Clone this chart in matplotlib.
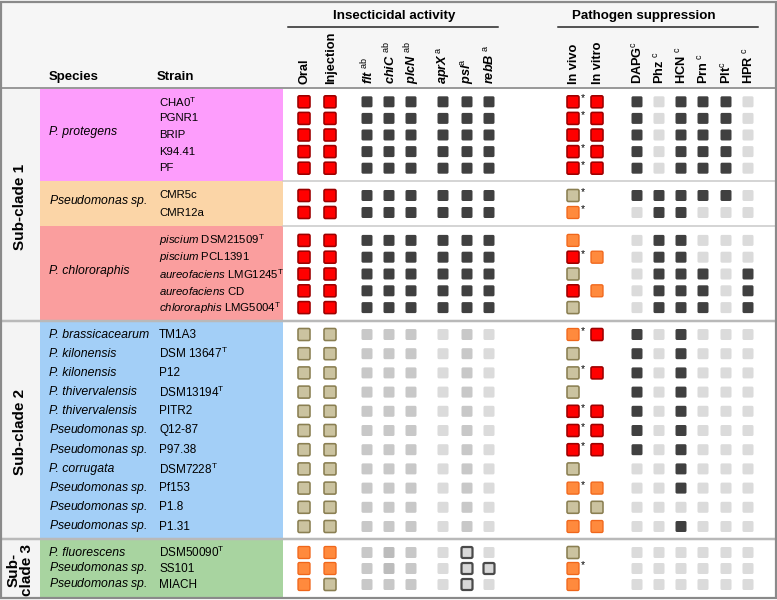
import numpy as np
import matplotlib
matplotlib.use('Agg')
import matplotlib.pyplot as plt
from matplotlib.patches import Rectangle, FancyBboxPatch

plt.rcParams['font.family'] = ['Liberation Sans', 'DejaVu Sans']
plt.rcParams['mathtext.fontset'] = 'custom'
plt.rcParams['mathtext.rm'] = 'Liberation Sans'
plt.rcParams['mathtext.it'] = 'Liberation Sans:italic'
plt.rcParams['mathtext.bf'] = 'Liberation Sans:bold'

# ---- data ----
columns = ['Oral', 'Injection',
           r'flt$\ ^{\mathrm{ab}}$', r'chiC$\ ^{\mathrm{ab}}$', r'plcN$\ ^{\mathrm{ab}}$',
           r'aprX$\,^{\mathrm{a}}$', r'psl$^{\mathrm{a}}$', r'rebB$\ ^{\mathrm{a}}$',
           'In vivo', 'In vitro',
           r'DAPG$^{\mathrm{c}}$', r'Phz$\ ^{\mathrm{c}}$', r'HCN$\ ^{\mathrm{c}}$',
           r'Prn$\ ^{\mathrm{c}}$', r'Plt$^{\mathrm{c}}$', r'HPR$\ ^{\mathrm{c}}$']
col_italic = [False, False, True, True, True, True, True, True,
              False, False, False, False, False, False, False, False]

subclades = ['Sub-clade 1', 'Sub-clade 2', 'Sub-\nclade 3']

# species bands: (name or None for per-row names, colour, subclade index)
band_species = ['P. protegens', r'$\mathit{Pseudomonas}$ sp.', 'P. chlororaphis', None, None]
band_colors = ['#fd9dfc', '#fbd5a7', '#fa9e9e', '#a3cff7', '#a8d4a0']
band_subclade = [0, 0, 0, 1, 2]

strains = [
    [r'CHA0$^{\mathrm{T}}$', 'PGNR1', 'BRIP', 'K94.41', 'PF'],
    ['CMR5c', 'CMR12a'],
    [r'$\mathit{piscium}$ DSM21509$^{\mathrm{T}}$', r'$\mathit{piscium}$ PCL1391',
     r'$\mathit{aureofaciens}$ LMG1245$^{\mathrm{T}}$', r'$\mathit{aureofaciens}$ CD',
     r'$\mathit{chlororaphis}$ LMG5004$^{\mathrm{T}}$'],
    ['TM1A3', r'DSM 13647$^{\mathrm{T}}$', 'P12', r'DSM13194$^{\mathrm{T}}$', 'PITR2',
     'Q12-87', 'P97.38', r'DSM7228$^{\mathrm{T}}$', 'Pf153', 'P1.8', 'P1.31'],
    [r'DSM50090$^{\mathrm{T}}$', 'SS101', 'MIACH'],
]

row_species = [
    None, None, None,
    ['P. brassicacearum', 'P. kilonensis', 'P. kilonensis', 'P. thivervalensis',
     'P. thivervalensis', r'$\mathit{Pseudomonas}$ sp.', r'$\mathit{Pseudomonas}$ sp.',
     'P. corrugata', r'$\mathit{Pseudomonas}$ sp.', r'$\mathit{Pseudomonas}$ sp.',
     r'$\mathit{Pseudomonas}$ sp.'],
    ['P. fluorescens', r'$\mathit{Pseudomonas}$ sp.', r'$\mathit{Pseudomonas}$ sp.'],
]

# cell codes per row, one char per column ('.' = empty)
# R red, T tan, O orange, D dark, L light, M mid grey, N darker grey, X outlined
cells = [
    ['RRDDDDDDRRDLDDDL', 'RRDDDDDDRRDLDDDL', 'RRDDDDDDRRDLDDDL',
     'RRDDDDDDRRDLDDDL', 'RRDDDDDDRRDLDDDL'],
    ['RRDDDDDDT.DDDDDL', 'RRDDDDDDO.LDDLLL'],
    ['RRDDDDDDO.LDDLLL', 'RRDDDDDDROLDDLLL', 'RRDDDDDDT.LDDDLD',
     'RRDDDDDDROLDDDLD', 'RRDDDDDDT.LDDDLD'],
    ['TTMMMLMLORDLDLLL', 'TTMMMLMLT.DLDLLL', 'TTMMMLMLTRDLDLLL',
     'TTMMMLMLT.DLDLLL', 'TTMMMLMLRRDLDLLL', 'TTMMMLMLRRDLDLLL',
     'TTMMMLMLRRDLDLLL', 'TTMMMLMLT.LLDLLL', 'TTMMMLMLOOLLDLLL',
     'TTMMMLMLTTLLLLLL', 'TTMMMLMLOOLLDLLL'],
    ['OOMNMLXLT.LLLLLL', 'OOMNMLXXO.LLLLLL', 'OTMMMLXLO.LLLLLL'],
]
stars = [
    [1, 1, 0, 1, 1],
    [1, 1],
    [0, 1, 0, 0, 0],
    [1, 0, 1, 0, 1, 1, 1, 0, 1, 0, 0],
    [0, 1, 0],
]

# ---- layout ----
W, H = 777, 600
col_x = [304, 330, 367, 389, 411, 443, 467, 489, 573, 597, 637, 659, 681, 703, 726, 748]
band_edges = [88, 181, 226, 321, 539, 597]
band_step = [16.6, 17, 16.8, 19.2, 16]
strain_size = [8.2, 8.2, 8.2, 8.5, 8.5]
px = 0.72  # points per pixel

styles = {
    'R': (12, '#ff0000', '#9c0000', 1.6),
    'T': (12, '#cbc3a0', '#8a7f52', 1.6),
    'O': (12, '#ff8a3d', '#f0661a', 1.3),
    'D': (11, '#404040', None, 0),
    'L': (11, '#dbdbdb', None, 0),
    'M': (11, '#c8c8c8', None, 0),
    'N': (11, '#bcbcbc', None, 0),
    'X': (11, '#d8d8d8', '#4a4a4a', 2.2),
}

fig = plt.figure(figsize=(W / 100, H / 100), dpi=100)
ax = fig.add_axes([0, 0, 1, 1])
ax.set_xlim(0, W)
ax.set_ylim(H, 0)
ax.axis('off')

# header + left column background
ax.add_patch(Rectangle((0, 0), W, band_edges[0], color='#f6f6f6', lw=0, zorder=0))
ax.add_patch(Rectangle((0, band_edges[0]), 40, H - band_edges[0], color='#f4f4f4', lw=0, zorder=0))

# column headers
ax.text(394, 16, 'Insecticidal activity', fontsize=9.6, fontweight='bold', ha='center', va='center')
ax.plot([288, 498], [27, 27], color='#222222', lw=1.5 * px)
ax.text(644, 16, 'Pathogen suppression', fontsize=9.6, fontweight='bold', ha='center', va='center')
ax.plot([558, 758], [27, 27], color='#222222', lw=1.5 * px)
ax.text(49, 80, 'Species', fontsize=9.5, fontweight='bold', ha='left', va='baseline')
ax.text(157, 80, 'Strain', fontsize=9.5, fontweight='bold', ha='left', va='baseline')
for x, lab, it in zip(col_x, columns, col_italic):
    ax.text(x + 1, 84, lab, rotation=90, fontsize=9.2, fontweight='bold',
            fontstyle='italic' if it else 'normal', ha='center', va='bottom')

# bands, rows and cells
sub_span = {}
for b in range(len(band_colors)):
    top, bot = band_edges[b], band_edges[b + 1]
    ax.add_patch(Rectangle((40, top), 243, bot - top, color=band_colors[b], lw=0, zorder=0))
    n = len(strains[b])
    centre = (top + bot) / 2 + 0.5
    ys = centre + (np.arange(n) - (n - 1) / 2) * band_step[b]
    s = band_subclade[b]
    lo, hi = sub_span.get(s, (top, bot))
    sub_span[s] = (min(lo, top), max(hi, bot))
    if band_species[b] is not None:
        ax.text(49, centre - 3, band_species[b], fontsize=8.8, fontstyle='italic',
                ha='left', va='center')
    for i, y in enumerate(ys):
        if row_species[b] is not None:
            ax.text(49, y, row_species[b][i], fontsize=8.8, fontstyle='italic',
                    ha='left', va='center')
        ax.text(159, y, strains[b][i], fontsize=strain_size[b], ha='left', va='center')
        for j, code in enumerate(cells[b][i]):
            if code == '.':
                continue
            size, fc, ec, lw = styles[code]
            r = 1.5
            ax.add_patch(FancyBboxPatch((col_x[j] - size / 2 + r, y - size / 2 + r),
                                        size - 2 * r, size - 2 * r,
                                        boxstyle='round,pad=%g' % r,
                                        fc=fc, ec=ec if ec else 'none',
                                        lw=lw * px, zorder=3))
        if stars[b][i]:
            ax.text(col_x[8] + 7.5, y - 3.5, '*', fontsize=7.5, ha='left', va='center', zorder=4)

# separators
ax.plot([0, W], [band_edges[0], band_edges[0]], color='#9a9a9a', lw=2 * px, zorder=2)
for yb in [band_edges[1], band_edges[2]]:
    ax.plot([283, W], [yb, yb], color='#c8c8c8', lw=1.5 * px, zorder=2)
for yb in [band_edges[3], band_edges[4]]:
    ax.plot([0, W], [yb, yb], color='#b9b9b9', lw=2.5 * px, zorder=2)

# sub-clade labels
for s, lab in enumerate(subclades):
    lo, hi = sub_span[s]
    ax.text(20, (lo + hi) / 2 + 2, lab, rotation=90, fontsize=11, fontweight='bold',
            ha='center', va='center', linespacing=0.95)

# outer frame
ax.add_patch(Rectangle((1, 1.5), W - 2, H - 3.5, fill=False, ec='#8a8a8a', lw=2.2 * px, zorder=5))

fig.savefig('out.png', dpi=100)
